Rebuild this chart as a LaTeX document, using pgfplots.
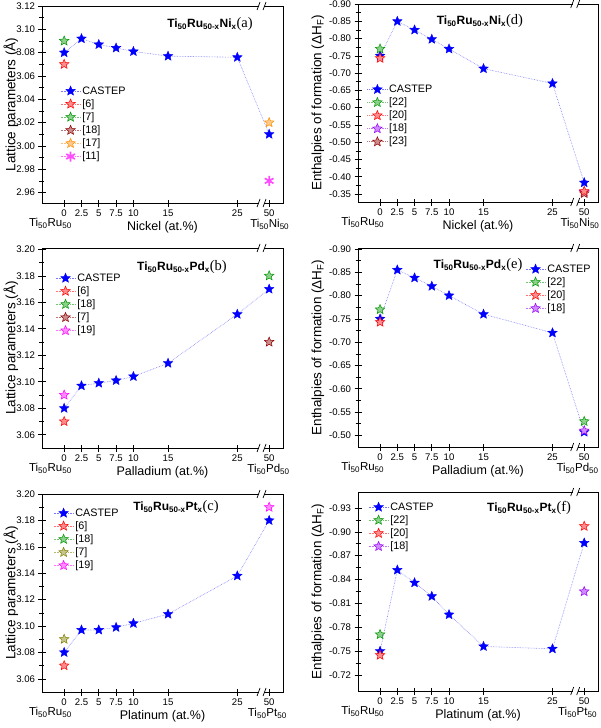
\documentclass[border=0pt]{standalone}
\usepackage{fontspec}
\setmainfont{Liberation Sans}
\newfontfamily\tnr{Liberation Serif}
\usepackage{pgfplots}
\pgfplotsset{compat=1.18}

\definecolor{cgreen}{RGB}{0,150,0}
\definecolor{cbrown}{RGB}{140,0,0}
\definecolor{corange}{RGB}{255,140,0}
\definecolor{cmag}{RGB}{255,0,255}
\definecolor{cpurple}{RGB}{150,0,255}
\definecolor{colive}{RGB}{128,128,0}
\definecolor{cline}{RGB}{120,120,255}

\pgfdeclareplotmark{fstar}{%
  \pgfpathmoveto{\pgfpointpolar{90}{\pgfplotmarksize}}%
  \pgfpathlineto{\pgfpointpolar{126}{0.45\pgfplotmarksize}}%
  \pgfpathlineto{\pgfpointpolar{162}{\pgfplotmarksize}}%
  \pgfpathlineto{\pgfpointpolar{198}{0.45\pgfplotmarksize}}%
  \pgfpathlineto{\pgfpointpolar{234}{\pgfplotmarksize}}%
  \pgfpathlineto{\pgfpointpolar{270}{0.45\pgfplotmarksize}}%
  \pgfpathlineto{\pgfpointpolar{306}{\pgfplotmarksize}}%
  \pgfpathlineto{\pgfpointpolar{342}{0.45\pgfplotmarksize}}%
  \pgfpathlineto{\pgfpointpolar{18}{\pgfplotmarksize}}%
  \pgfpathlineto{\pgfpointpolar{54}{0.45\pgfplotmarksize}}%
  \pgfpathclose\pgfusepathqfillstroke}

\pgfplotsset{
  base/.style={scale only axis, anchor=north west, clip=false,
    xmin=-3.2, xmax=31.6,
    xtick={0,2.5,5,7.5,10,15,25,29.6},
    xticklabels={0,2.5,5,7.5,10,15,25,50},
    tick align=outside, xtick pos=left, ytick pos=left,
    minor y tick num=1,
    major tick length=3.5pt, minor tick length=2.5pt,
    every tick/.style={black, line width=0.6pt},
    axis line style={line width=0.8pt},
    /pgf/number format/assume math mode=true,
    yticklabel style={/pgf/number format/.cd, fixed, fixed zerofill, precision=2},
    tick label style={font=\fontsize{9.6}{11}\selectfont},
    xlabel style={font=\fontsize{12.5}{14}\selectfont, yshift=2pt},
    legend style={draw=none, fill=none, inner sep=0pt, anchor=north west,
      font=\fontsize{10.8}{12}\selectfont, row sep=0.8pt,
      nodes={inner sep=1.5pt}},
    legend cell align=left,
    legend image code/.code={\draw[mark repeat=2,mark phase=2] plot coordinates {(0pt,0pt) (10pt,0pt) (20pt,0pt)};},
  },
  leftcol/.style={ylabel style={font=\fontsize{13.5}{15}\selectfont, at={([xshift=-31pt]axis description cs:0,0.5)}, anchor=center}},
  rightcol/.style={ylabel style={font=\fontsize{13.5}{15}\selectfont, at={([xshift=-40pt]axis description cs:0,0.5)}, anchor=center}},
  mirror/.style={axis x line*=top, axis y line*=right, tick align=inside,
    xticklabels={}, yticklabels={}, xlabel={}, ylabel={}},
  castep/.style={densely dotted, color=cline, line width=0.6pt, mark=fstar, mark size=5pt,
    mark options={solid, draw=blue, fill=blue, line width=0.4pt}},
  ref/.style={densely dotted, line width=0.6pt, color=#1!55, mark=fstar, mark size=5pt,
    mark options={solid, draw=#1, fill=#1!45, line width=0.5pt}},
  aster/.style={densely dotted, line width=0.6pt, color=#1!55, mark=asterisk, mark size=5pt,
    mark options={solid, draw=#1!70, line width=1.7pt}},
  pa/.style={leftcol, at={(42pt,-6pt)}, width=241pt, height=197pt,
    ymin=2.951, ymax=3.12, ytick={2.96,2.98,3.00,3.02,3.04,3.06,3.08,3.10,3.12}},
  pd/.style={rightcol, at={(358pt,-4pt)}, width=240pt, height=198pt,
    y dir=reverse, ymin=-0.90, ymax=-0.327,
    ytick={-0.90,-0.85,-0.80,-0.75,-0.70,-0.65,-0.60,-0.55,-0.50,-0.45,-0.40,-0.35}},
  pb/.style={leftcol, at={(42pt,-248pt)}, width=241pt, height=200pt,
    ymin=3.05, ymax=3.201, ytick={3.06,3.08,3.10,3.12,3.14,3.16,3.18,3.20}},
  pe/.style={rightcol, at={(358pt,-248pt)}, width=240pt, height=199pt,
    y dir=reverse, ymin=-0.902, ymax=-0.475,
    ytick={-0.90,-0.85,-0.80,-0.75,-0.70,-0.65,-0.60,-0.55,-0.50}},
  pc/.style={leftcol, at={(42pt,-494pt)}, width=241pt, height=198pt,
    ymin=3.05, ymax=3.20, ytick={3.06,3.08,3.10,3.12,3.14,3.16,3.18,3.20}},
  pf/.style={rightcol, at={(358pt,-492pt)}, width=240pt, height=199pt,
    y dir=reverse, ymin=-0.95, ymax=-0.70,
    ytick={-0.93,-0.90,-0.87,-0.84,-0.81,-0.78,-0.75,-0.72}},
}

\newcommand{\brk}[1]{%
  \fill[white] ([xshift=-2.5pt,yshift=-1.5pt]axis description cs:#1,0) rectangle ([xshift=2.5pt,yshift=1.5pt]axis description cs:#1,0);
  \fill[white] ([xshift=-2.5pt,yshift=-1.5pt]axis description cs:#1,1) rectangle ([xshift=2.5pt,yshift=1.5pt]axis description cs:#1,1);
  \draw[line width=0.7pt] ([xshift=-4.5pt,yshift=-4pt]axis description cs:#1,0) -- ([xshift=-1.5pt,yshift=4pt]axis description cs:#1,0);
  \draw[line width=0.7pt] ([xshift=1.5pt,yshift=-4pt]axis description cs:#1,0) -- ([xshift=4.5pt,yshift=4pt]axis description cs:#1,0);
  \draw[line width=0.7pt] ([xshift=-4.5pt,yshift=-4pt]axis description cs:#1,1) -- ([xshift=-1.5pt,yshift=4pt]axis description cs:#1,1);
  \draw[line width=0.7pt] ([xshift=1.5pt,yshift=-4pt]axis description cs:#1,1) -- ([xshift=4.5pt,yshift=4pt]axis description cs:#1,1);
}
\newcommand{\sublabels}[3]{%
  \node[font=\fontsize{11.5}{13}\selectfont] at ([yshift=-20pt]axis description cs:#1,0) {Ti\textsubscript{50}Ru\textsubscript{50}};
  \node[font=\fontsize{11.5}{13}\selectfont] at ([yshift=-21pt]axis description cs:#2,0) {Ti\textsubscript{50}#3\textsubscript{50}};
}
\newcommand{\ttl}[2]{\textbf{Ti\textsubscript{50}Ru\textsubscript{50-x}#1\textsubscript{x}}{\tnr\fontsize{14.5}{15}\selectfont(#2)}}
\newcommand{\mirrorax}[2]{\begin{axis}[base, #1, mirror]\addplot[draw=none, forget plot] coordinates {(0,0)};\brk{#2}\end{axis}}

\begin{document}
\begin{tikzpicture}
\useasboundingbox (0pt,0pt) rectangle (600pt,-728pt);

% ---------------- (a)
\begin{axis}[base, pa,
  ylabel={Lattice parameters (Å)}, xlabel={Nickel (at.\%)},
  legend style={at={(axis description cs:0.075,0.60)}}]
\addplot[castep] coordinates {(0,3.080)(2.5,3.092)(5,3.087)(7.5,3.084)(10,3.081)(15,3.077)(25,3.076)(29.6,3.010)};
\addlegendentry{CASTEP}
\addplot[ref=red] coordinates {(0,3.070)};
\addlegendentry{[6]}
\addplot[ref=cgreen] coordinates {(0,3.090)};
\addlegendentry{[7]}
\addlegendimage{ref=cbrown}
\addlegendentry{[18]}
\addplot[ref=corange] coordinates {(29.6,3.020)};
\addlegendentry{[17]}
\addplot[aster=cmag] coordinates {(29.6,2.970)};
\addlegendentry{[11]}
\node[font=\fontsize{12}{14}\selectfont] at (axis description cs:0.697,0.909) {\ttl{Ni}{a}};
\sublabels{0.035}{0.945}{Ni}
\end{axis}
\mirrorax{pa}{0.911}

% ---------------- (d)
\begin{axis}[base, pd,
  ylabel={Enthalpies of formation (ΔH\textsubscript{F})}, xlabel={Nickel (at.\%)},
  legend style={at={(axis description cs:0.037,0.60)}}]
\addplot[castep] coordinates {(0,-0.75)(2.5,-0.85)(5,-0.825)(7.5,-0.798)(10,-0.77)(15,-0.713)(25,-0.67)(29.6,-0.383)};
\addlegendentry{CASTEP}
\addplot[ref=cgreen] coordinates {(0,-0.77)};
\addlegendentry{[22]}
\addplot[ref=red] coordinates {(0,-0.743)};
\addlegendentry{[20]}
\addplot[ref=cpurple] coordinates {(29.6,-0.356)};
\addlegendentry{[18]}
\addplot[ref=cbrown] coordinates {(29.6,-0.352)};
\addlegendentry{[23]}
\addplot[ref=red, forget plot] coordinates {(29.6,-0.358)};
\node[font=\fontsize{12}{14}\selectfont] at (axis description cs:0.508,0.914) {\ttl{Ni}{d}};
\sublabels{0.02}{0.925}{Ni}
\end{axis}
\mirrorax{pd}{0.905}

% ---------------- (b)
\begin{axis}[base, pb,
  ylabel={Lattice parameters (Å)}, xlabel={Palladium (at.\%)},
  legend style={at={(axis description cs:0.054,0.88)}}]
\addplot[castep] coordinates {(0,3.080)(2.5,3.097)(5,3.099)(7.5,3.101)(10,3.104)(15,3.114)(25,3.151)(29.6,3.170)};
\addlegendentry{CASTEP}
\addplot[ref=red] coordinates {(0,3.070)};
\addlegendentry{[6]}
\addplot[ref=cgreen] coordinates {(29.6,3.180)};
\addlegendentry{[18]}
\addplot[ref=cbrown] coordinates {(29.6,3.130)};
\addlegendentry{[7]}
\addplot[ref=cmag] coordinates {(0,3.090)};
\addlegendentry{[19]}
\node[font=\fontsize{12}{14}\selectfont] at (axis description cs:0.581,0.905) {\ttl{Pd}{b}};
\sublabels{0.035}{0.94}{Pd}
\end{axis}
\mirrorax{pb}{0.911}

% ---------------- (e)
\begin{axis}[base, pe,
  ylabel={Enthalpies of formation (ΔH\textsubscript{F})}, xlabel={Palladium (at.\%)},
  legend style={at={(axis description cs:0.696,0.925)}}]
\addplot[castep] coordinates {(0,-0.75)(2.5,-0.855)(5,-0.838)(7.5,-0.82)(10,-0.80)(15,-0.76)(25,-0.72)(29.6,-0.507)};
\addlegendentry{CASTEP}
\addplot[ref=cgreen] coordinates {(0,-0.77)};
\addlegendentry{[22]}
\addplot[ref=red] coordinates {(0,-0.743)};
\addlegendentry{[20]}
\addplot[ref=cpurple] coordinates {(29.6,-0.51)};
\addlegendentry{[18]}
\addplot[ref=cgreen, forget plot] coordinates {(29.6,-0.53)};
\node[font=\fontsize{12}{14}\selectfont] at (axis description cs:0.5,0.915) {\ttl{Pd}{e}};
\sublabels{0.02}{0.915}{Pd}
\end{axis}
\mirrorax{pe}{0.905}

% ---------------- (c)
\begin{axis}[base, pc,
  ylabel={Lattice parameters (Å)}, xlabel={Platinum (at.\%)},
  legend style={at={(axis description cs:0.046,0.935)}}]
\addplot[castep] coordinates {(0,3.080)(2.5,3.097)(5,3.097)(7.5,3.099)(10,3.102)(15,3.109)(25,3.138)(29.6,3.180)};
\addlegendentry{CASTEP}
\addplot[ref=red] coordinates {(0,3.070)};
\addlegendentry{[6]}
\addlegendimage{ref=cgreen}
\addlegendentry{[18]}
\addplot[ref=colive] coordinates {(0,3.090)};
\addlegendentry{[7]}
\addplot[ref=cmag] coordinates {(29.6,3.190)};
\addlegendentry{[19]}
\node[font=\fontsize{12}{14}\selectfont] at (axis description cs:0.556,0.934) {\ttl{Pt}{c}};
\sublabels{0.035}{0.935}{Pt}
\end{axis}
\mirrorax{pc}{0.911}

% ---------------- (f)
\begin{axis}[base, pf,
  ylabel={Enthalpies of formation (ΔH\textsubscript{F})}, xlabel={Platinum (at.\%)},
  legend style={at={(axis description cs:0.042,0.955)}}]
\addplot[castep] coordinates {(0,-0.75)(2.5,-0.852)(5,-0.836)(7.5,-0.819)(10,-0.796)(15,-0.756)(25,-0.753)(29.6,-0.886)};
\addlegendentry{CASTEP}
\addplot[ref=cgreen] coordinates {(0,-0.771)};
\addlegendentry{[22]}
\addplot[ref=red] coordinates {(0,-0.745)};
\addlegendentry{[20]}
\addplot[ref=cpurple] coordinates {(29.6,-0.825)};
\addlegendentry{[18]}
\addplot[ref=red, forget plot] coordinates {(29.6,-0.907)};
\node[font=\fontsize{12}{14}\selectfont] at (axis description cs:0.713,0.92) {\ttl{Pt}{f}};
\sublabels{0.02}{0.915}{Pt}
\end{axis}
\mirrorax{pf}{0.905}
\end{tikzpicture}
\end{document}
